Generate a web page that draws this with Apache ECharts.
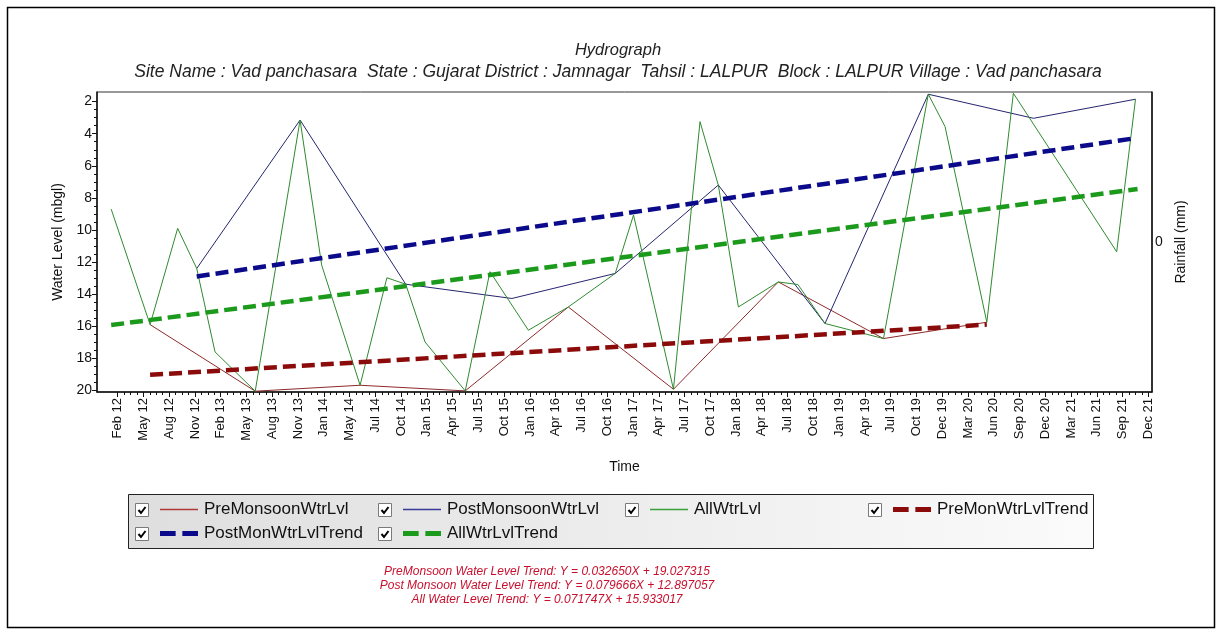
<!DOCTYPE html>
<html>
<head>
<meta charset="utf-8">
<script src="https://cdn.jsdelivr.net/npm/echarts@6/dist/echarts.min.js"></script>
<style>
  html, body { margin: 0; padding: 0; background: #ffffff; }
  #chart { width: 1222px; height: 635px; }
</style>
</head>
<body>
<div id="chart"></div>
<script>
// Time-axis tick labels, one per tick step
const timeLabels = ['Feb 12','May 12','Aug 12','Nov 12','Feb 13','May 13','Aug 13','Nov 13','Jan 14','May 14',
  'Jul 14','Oct 14','Jan 15','Apr 15','Jul 15','Oct 15','Jan 16','Apr 16','Jul 16','Oct 16',
  'Jan 17','Apr 17','Jul 17','Oct 17','Jan 18','Apr 18','Jul 18','Oct 18','Jan 19','Apr 19',
  'Jul 19','Oct 19','Dec 19','Mar 20','Jun 20','Sep 20','Dec 20','Mar 21','Jun 21','Sep 21','Dec 21'];
const levelTicks = [2, 4, 6, 8, 10, 12, 14, 16, 18, 20];

// Observation times (in tick steps counted from "Feb 12") and water levels (m bgl)
const preMonsoonT   = [1.26, 5.34, 9.41, 13.49, 17.49, 21.57, 25.64, 29.72, 33.73];
const preMonsoonLvl = [15.9, 20.05, 19.68, 20.03, 14.8, 19.93, 13.24, 16.77, 15.75];

const postMonsoonT   = [3.07, 7.08, 11.18, 15.3, 19.31, 23.31, 27.45, 31.46, 35.54, 39.5];
const postMonsoonLvl = [12.4, 3.15, 13.38, 14.27, 12.71, 7.2, 15.83, 1.54, 3.04, 1.85];

const allT   = [-0.25, 1.26, 2.33, 3.07, 3.78, 5.34, 7.08, 7.92, 9.41, 10.45, 11.18, 11.93, 13.49, 14.45,
  15.94, 17.49, 19.31, 20.02, 21.57, 22.6, 23.31, 24.09, 25.64, 26.4, 27.45, 29.72, 31.46, 32.11,
  33.73, 34.76, 38.77, 39.5];
const allLvl = [8.7, 15.9, 9.9, 12.4, 17.6, 20.05, 3.15, 12.2, 19.68, 12.98, 13.38, 16.98, 20.03, 12.6,
  16.25, 14.8, 12.71, 9.07, 19.93, 3.25, 7.2, 14.8, 13.24, 13.4, 15.83, 16.77, 1.54, 3.56,
  15.75, 1.48, 11.36, 1.85];

// Fitted trend lines (start and end of each)
const preTrendT   = [1.26, 33.73];
const preTrendLvl = [19.03, 15.9];
const postTrendT   = [3.07, 39.4];
const postTrendLvl = [12.9, 4.3];
const allTrendT   = [-0.25, 39.58];
const allTrendLvl = [15.93, 7.45];

const trendNotes = [
  'PreMonsoon Water Level Trend: Y = 0.032650X + 19.027315',
  'Post Monsoon Water Level Trend: Y = 0.079666X + 12.897057',
  'All Water Level Trend: Y = 0.071747X + 15.933017'
];

const siteLine = 'Site Name : Vad panchasara  State : Gujarat District : Jamnagar  Tahsil : LALPUR  Block : LALPUR Village : Vad panchasara';

const pairs = (t, v) => t.map((x, i) => [x, v[i]]);

const FONT = 'Liberation Sans, Arial, sans-serif';
const T_MIN = -0.8, T_MAX = 40.14;
const L_MIN = 1.4, L_MAX = 20.1;

// minor tick positions between labelled ticks
const minorT = [];
for (let k = 0; k < timeLabels.length - 1; k++) {
  for (let q = 1; q < 4; q++) minorT.push(k + q / 4);
}
const minorL = [];
for (let v = 2; v < 20; v += 2) { minorL.push(v + 0.5, v + 1, v + 1.5); }

const solidIcon = 'path://M0,0H38V1.3H0Z';
const dashIcon = 'path://M0,0H14V4.6H0Z M20,0H34V4.6H20Z';

// legend layout: [series name, line start x, row centre y, icon]
const legendLayout = [
  ['PreMonsoonWtrLvl', 160, 510, solidIcon],
  ['PostMonsoonWtrLvl', 403, 510, solidIcon],
  ['AllWtrLvl', 650, 510, solidIcon],
  ['PreMonWtrLvlTrend', 893, 510, dashIcon],
  ['PostMonWtrLvlTrend', 160, 534, dashIcon],
  ['AllWtrLvlTrend', 403, 534, dashIcon]
];
const checkboxX = [135, 378, 625, 868, 135, 378];

const legends = legendLayout.map(([name, x, y, icon]) => ({
  data: [name],
  left: x,
  top: y - 9,
  icon: icon,
  itemWidth: 38,
  itemHeight: 18,
  itemGap: 0,
  padding: 0,
  selectedMode: true,
  textStyle: { fontFamily: FONT, fontSize: 17, color: '#111', padding: [0, 0, 0, 1] }
}));

// check boxes drawn in front of the legend panel
const checkboxes = [];
legendLayout.forEach(([, , y], i) => {
  const x0 = checkboxX[i] + 0.5, y0 = y - 7 + 0.5;
  checkboxes.push(
    { type: 'rect', z: 10, silent: true,
      shape: { x: x0, y: y0, width: 13, height: 13 },
      style: { fill: '#ffffff', stroke: '#7a7a7a', lineWidth: 1 } },
    { type: 'polyline', z: 11, silent: true,
      shape: { points: [[x0 + 3, y0 + 6.5], [x0 + 5.5, y0 + 9.5], [x0 + 10, y0 + 3.5]] },
      style: { stroke: '#000000', lineWidth: 2, fill: null } }
  );
});

const chart = echarts.init(document.getElementById('chart'), null, { renderer: 'canvas' });

chart.setOption({
  backgroundColor: '#ffffff',
  animation: false,
  title: {
    text: 'Hydrograph',
    subtext: siteLine,
    left: 613,
    textAlign: 'center',
    top: 37,
    itemGap: 4,
    textStyle: { fontFamily: FONT, fontSize: 16.5, fontStyle: 'italic', fontWeight: 'normal', color: '#222' },
    subtextStyle: { fontFamily: FONT, fontSize: 17.5, fontStyle: 'italic', color: '#222' }
  },
  legend: legends,
  grid: {
    left: 97, right: 70, top: 92, bottom: 243,
    show: true, borderColor: '#333', borderWidth: 1, backgroundColor: '#ffffff'
  },
  xAxis: [{
    type: 'value',
    min: T_MIN, max: T_MAX,
    name: 'Time',
    nameLocation: 'middle',
    nameGap: 68,
    nameTextStyle: { fontFamily: FONT, fontSize: 14, color: '#111' },
    splitLine: { show: false },
    axisLine: { show: true, onZero: false, lineStyle: { color: '#111', width: 1.5 } },
    axisTick: { show: true, length: 5, customValues: timeLabels.map((_, i) => i), lineStyle: { color: '#111' } },
    axisLabel: {
      customValues: timeLabels.map((_, i) => i),
      rotate: 90,
      margin: 6,
      fontFamily: FONT, fontSize: 13, color: '#111',
      formatter: v => timeLabels[Math.round(v)]
    }
  }, {
    type: 'value',
    min: T_MIN, max: T_MAX,
    position: 'bottom',
    axisLine: { show: false, onZero: false },
    splitLine: { show: false },
    axisLabel: { show: false },
    axisTick: { show: true, length: 3, customValues: minorT, lineStyle: { color: '#111' } }
  }],
  yAxis: [{
    type: 'value',
    inverse: true,
    min: L_MIN, max: L_MAX,
    position: 'left',
    name: 'Water Level (mbgl)',
    nameLocation: 'middle',
    nameRotate: 90,
    nameGap: 25,
    nameTextStyle: { fontFamily: FONT, fontSize: 14, color: '#111' },
    splitLine: { show: false },
    axisLine: { show: true, onZero: false, lineStyle: { color: '#111', width: 1.5 } },
    axisTick: { show: true, length: 5, customValues: levelTicks, lineStyle: { color: '#111' } },
    axisLabel: { customValues: levelTicks, margin: 5, fontFamily: FONT, fontSize: 14, color: '#111' }
  }, {
    type: 'value',
    min: -1, max: 1,
    position: 'right',
    name: 'Rainfall (mm)',
    nameLocation: 'middle',
    nameRotate: 90,
    nameGap: 22,
    nameTextStyle: { fontFamily: FONT, fontSize: 14, color: '#111' },
    splitLine: { show: false },
    axisLine: { show: true, onZero: false, lineStyle: { color: '#111', width: 1.5 } },
    axisTick: { show: false },
    axisLabel: { customValues: [0], margin: 3, fontFamily: FONT, fontSize: 14, color: '#111' }
  }, {
    type: 'value',
    inverse: true,
    min: L_MIN, max: L_MAX,
    position: 'left',
    axisLine: { show: false, onZero: false },
    splitLine: { show: false },
    axisLabel: { show: false },
    axisTick: { show: true, length: 3, customValues: minorL, lineStyle: { color: '#111' } }
  }],
  series: [{
    name: 'PreMonsoonWtrLvl', type: 'line', symbol: 'none',
    data: pairs(preMonsoonT, preMonsoonLvl),
    itemStyle: { color: '#b03a3a' },
    lineStyle: { color: '#8e2a2a', width: 1 }
  }, {
    name: 'PostMonsoonWtrLvl', type: 'line', symbol: 'none',
    data: pairs(postMonsoonT, postMonsoonLvl),
    itemStyle: { color: '#3a3a9a' },
    lineStyle: { color: '#25256e', width: 1 }
  }, {
    name: 'AllWtrLvl', type: 'line', symbol: 'none',
    data: pairs(allT, allLvl),
    itemStyle: { color: '#3aa03a' },
    lineStyle: { color: '#2f8a2f', width: 1 }
  }, {
    name: 'PreMonWtrLvlTrend', type: 'line', symbol: 'none',
    data: pairs(preTrendT, preTrendLvl),
    itemStyle: { color: '#8b0a0a' },
    lineStyle: { color: '#8b0a0a', width: 4.5, type: [13, 6] }
  }, {
    name: 'PostMonWtrLvlTrend', type: 'line', symbol: 'none',
    data: pairs(postTrendT, postTrendLvl),
    itemStyle: { color: '#0a0a8b' },
    lineStyle: { color: '#0a0a8b', width: 4.5, type: [13, 6] }
  }, {
    name: 'AllWtrLvlTrend', type: 'line', symbol: 'none',
    data: pairs(allTrendT, allTrendLvl),
    itemStyle: { color: '#1c9a1c' },
    lineStyle: { color: '#1c9a1c', width: 4.5, type: [13, 6] }
  }],
  graphic: [
    // outer frame
    { type: 'rect', z: 0, silent: true,
      shape: { x: 7.5, y: 7.5, width: 1207, height: 620 },
      style: { fill: null, stroke: '#000', lineWidth: 1.5 } },
    // legend panel
    { type: 'rect', z: 1, silent: true,
      shape: { x: 128.5, y: 494.5, width: 965, height: 54 },
      style: {
        stroke: '#222', lineWidth: 1,
        fill: new echarts.graphic.LinearGradient(0, 0, 1, 0, [
          { offset: 0, color: '#dedede' }, { offset: 1, color: '#fbfbfb' }
        ])
      } },
    ...checkboxes,
    { type: 'text', z: 5, silent: true,
      x: 547, y: 565,
      style: {
        text: trendNotes.join('\n'),
        textAlign: 'center',
        fontFamily: FONT, fontSize: 12, fontStyle: 'italic', lineHeight: 14,
        fill: '#c8102e'
      } }
  ]
});
</script>
</body>
</html>
